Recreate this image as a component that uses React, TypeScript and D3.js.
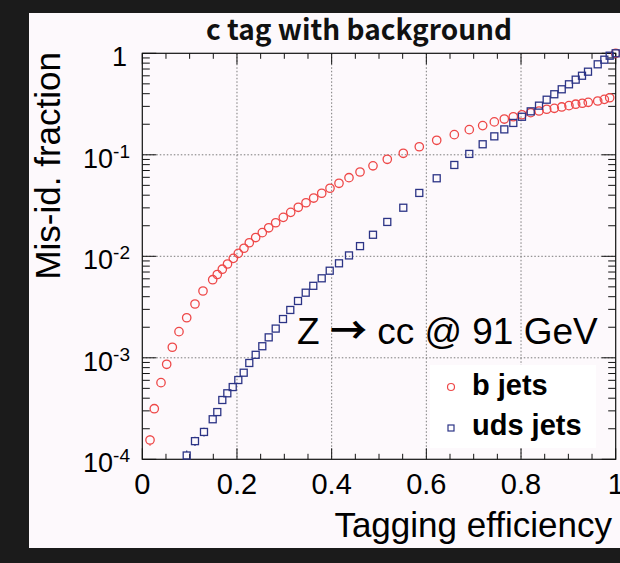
import React from "react";
import * as d3 from "d3";

const title = "c tag with background";
const xLabel = "Tagging efficiency";
const yLabel = "Mis-id. fraction";
const annotation = ["Z ", "→", " cc @ 91 GeV"];
const legendLabels = ["b jets", "uds jets"];

const xTicks = [0, 0.2, 0.4, 0.6, 0.8, 1];
const xTickLabels = ["0", "0.2", "0.4", "0.6", "0.8", "1"];
const yDecades = [1, 1e-1, 1e-2, 1e-3, 1e-4];
const yExponents = ["", "-1", "-2", "-3", "-4"];

const bEff = [0.0163, 0.0253, 0.0395, 0.0515, 0.0634, 0.0775, 0.0938, 0.1113, 0.1282, 0.1487, 0.1584, 0.169, 0.180, 0.1922, 0.2028, 0.2148, 0.226, 0.2395, 0.2535, 0.267, 0.2818, 0.2978, 0.3135, 0.3295, 0.3458, 0.362, 0.379, 0.3965, 0.4155, 0.4366, 0.4599, 0.4873, 0.5175, 0.5513, 0.5851, 0.6219, 0.6591, 0.6907, 0.719, 0.7436, 0.7647, 0.7837, 0.802, 0.8205, 0.838, 0.8542, 0.8703, 0.886, 0.9013, 0.9155, 0.9295, 0.942, 0.962, 0.976, 0.9873, 1.0];
const bFrac = [1.55e-4, 3.15e-4, 5.69e-4, 8.63e-4, 1.27e-3, 1.81e-3, 2.48e-3, 3.39e-3, 4.55e-3, 5.88e-3, 6.62e-3, 7.46e-3, 8.40e-3, 9.55e-3, 1.07e-2, 1.20e-2, 1.36e-2, 1.53e-2, 1.71e-2, 1.91e-2, 2.14e-2, 2.42e-2, 2.71e-2, 3.04e-2, 3.37e-2, 3.75e-2, 4.18e-2, 4.68e-2, 5.24e-2, 5.95e-2, 6.77e-2, 7.79e-2, 9.03e-2, 0.1035, 0.120, 0.139, 0.158, 0.177, 0.194, 0.211, 0.225, 0.237, 0.248, 0.260, 0.270, 0.281, 0.287, 0.296, 0.305, 0.315, 0.322, 0.329, 0.339, 0.352, 0.365, 1.0];
const bErr = [1.9e-5, 2.2e-5];

const udsEff = [0.0938, 0.1113, 0.1303, 0.1487, 0.1584, 0.169, 0.1796, 0.191, 0.2028, 0.2142, 0.226, 0.2395, 0.2535, 0.267, 0.2818, 0.2972, 0.3126, 0.3289, 0.3452, 0.3612, 0.379, 0.3959, 0.4155, 0.4366, 0.4599, 0.4873, 0.5175, 0.5513, 0.5851, 0.6219, 0.6591, 0.6907, 0.719, 0.7436, 0.7647, 0.7837, 0.802, 0.8205, 0.838, 0.8542, 0.8703, 0.886, 0.9013, 0.9155, 0.9288, 0.9415, 0.962, 0.976, 0.9873, 1.0];
const udsFrac = [1.09e-4, 1.51e-4, 1.86e-4, 2.48e-4, 2.92e-4, 3.84e-4, 4.47e-4, 5.15e-4, 6.04e-4, 7.13e-4, 8.89e-4, 1.07e-3, 1.30e-3, 1.59e-3, 1.94e-3, 2.41e-3, 2.96e-3, 3.63e-3, 4.38e-3, 5.12e-3, 6.07e-3, 7.21e-3, 8.53e-3, 1.02e-2, 1.26e-2, 1.63e-2, 2.18e-2, 3.01e-2, 4.21e-2, 5.87e-2, 7.94e-2, 0.102, 0.127, 0.152, 0.178, 0.206, 0.237, 0.268, 0.305, 0.349, 0.395, 0.442, 0.495, 0.550, 0.601, 0.659, 0.779, 0.865, 0.947, 1.0];
const udsErr = [1.3e-5, 1.6e-5, 1.8e-5, 1.7e-5, 2.0e-5];

const W = 620;
const H = 563;
const L = 142.3, R = 615.7, T = 53.3, B = 459.3;
const RED = "#ee4848";
const BLUE = "#2c3486";
const AXF = "'Liberation Sans', Arial, Helvetica, sans-serif";

export default function App() {
  const x = d3.scaleLinear().domain([0, 1]).range([L, R]);
  const y = d3.scaleLog().domain([1e-4, 1]).range([B, T]);

  const xMinor = d3.range(0, 1.0001, 0.05).filter((v) => !xTicks.some((t) => Math.abs(t - v) < 1e-6));
  const yMinor: number[] = [];
  for (let e = -4; e < 0; e++) for (let k = 2; k <= 9; k++) yMinor.push(k * Math.pow(10, e));

  const rC = 4.2;
  const sq = 7;

  const errSegs = (xs: number[], ys: number[], es: number[], gap: number, color: string, key: string) =>
    es.map((e, i) => {
      const cx = x(xs[i]);
      const cy = y(ys[i]);
      const top = y(ys[i] + e);
      const bot = y(Math.max(ys[i] - e, 1e-5));
      return (
        <g key={key + i} stroke={color} strokeWidth={1.2}>
          {top < cy - gap && <line x1={cx} x2={cx} y1={top} y2={cy - gap} />}
          {bot > cy + gap && <line x1={cx} x2={cx} y1={cy + gap} y2={Math.min(bot, B)} />}
        </g>
      );
    });

  return (
    <svg width={W} height={H} style={{ position: "absolute", left: 0, top: 0 }}>
      <rect x={0} y={0} width={W} height={H} fill="#1b1b1b" />
      <rect x={29} y={13} width={W - 29} height={548 - 13} fill="#fdf9fc" />
      {/* grid */}
      <g stroke="#7a7a7a" strokeWidth={1} strokeDasharray="1.5,2">
        {xTicks.slice(1, -1).map((t) => (
          <line key={"gx" + t} x1={x(t)} x2={x(t)} y1={T} y2={B} />
        ))}
        {yDecades.slice(1, -1).map((t) => (
          <line key={"gy" + t} x1={L} x2={R} y1={y(t)} y2={y(t)} />
        ))}
      </g>
      {/* ticks */}
      <g stroke="#111" strokeWidth={1}>
        {xTicks.map((t) => (
          <g key={"xt" + t}>
            <line x1={x(t)} x2={x(t)} y1={B} y2={B - 11} />
            <line x1={x(t)} x2={x(t)} y1={T} y2={T + 11} />
          </g>
        ))}
        {xMinor.map((t) => (
          <g key={"xm" + t}>
            <line x1={x(t)} x2={x(t)} y1={B} y2={B - 5.5} />
            <line x1={x(t)} x2={x(t)} y1={T} y2={T + 5.5} />
          </g>
        ))}
        {yDecades.map((t) => (
          <g key={"yt" + t}>
            <line x1={L} x2={L + 14} y1={y(t)} y2={y(t)} />
            <line x1={R} x2={R - 14} y1={y(t)} y2={y(t)} />
          </g>
        ))}
        {yMinor.map((t) => (
          <g key={"ym" + t}>
            <line x1={L} x2={L + 7.5} y1={y(t)} y2={y(t)} />
            <line x1={R} x2={R - 7.5} y1={y(t)} y2={y(t)} />
          </g>
        ))}
      </g>
      <rect x={L} y={T} width={R - L} height={B - T} fill="none" stroke="#111" strokeWidth={1.2} />
      {/* tick labels */}
      <g fontFamily={AXF} fontSize={29} fill="#000" textAnchor="middle">
        {xTicks.map((t, i) => (
          <text key={"xl" + t} x={x(t)} y={494}>
            {xTickLabels[i]}
          </text>
        ))}
      </g>
      <g fontFamily={AXF} fill="#000" textAnchor="end">
        {yDecades.map((t, i) =>
          yExponents[i] === "" ? (
            <text key={"yl" + t} x={127} y={y(t) + 13} fontSize={27}>
              1
            </text>
          ) : (
            <text key={"yl" + t} x={130} y={y(t) + 13} fontSize={27}>
              10
              <tspan fontSize={19} dy={-10}>
                {yExponents[i]}
              </tspan>
            </text>
          )
        )}
      </g>
      {/* axis titles */}
      <text x={612} y={537} fontFamily={AXF} fontSize={35} textAnchor="end" fill="#000">
        {xLabel}
      </text>
      <text
        transform="translate(60,52) rotate(-90)"
        fontFamily={AXF}
        fontSize={35}
        textAnchor="end"
        fill="#000"
      >
        {yLabel}
      </text>
      <text
        x={359}
        y={40}
        fontFamily="'Noto Sans CJK JP', 'Noto Sans', sans-serif"
        fontWeight="bold"
        fontSize={28}
        textAnchor="middle"
        fill="#111"
      >
        {title}
      </text>
      {/* error bars */}
      {errSegs(bEff, bFrac, bErr, rC, RED, "be")}
      {errSegs(udsEff, udsFrac, udsErr, sq / 2, BLUE, "ue")}
      {/* b jets */}
      <g fill="none" stroke={RED} strokeWidth={1.3}>
        {bEff.map((e, i) => (
          <circle key={"b" + i} cx={x(e)} cy={y(bFrac[i])} r={rC} />
        ))}
      </g>
      {/* uds jets */}
      <g fill="none" stroke={BLUE} strokeWidth={1.3}>
        {udsEff.map((e, i) => (
          <rect key={"u" + i} x={x(e) - sq / 2} y={y(udsFrac[i]) - sq / 2} width={sq} height={sq} />
        ))}
      </g>
      {/* annotation */}
      <text x={297} y={344} fontFamily={AXF} fontSize={37} fill="#000">
        {annotation[0]}
        <tspan fontFamily="'Noto Sans CJK JP', sans-serif" fontWeight="bold">
          {annotation[1]}
        </tspan>
        {annotation[2]}
      </text>
      {/* legend */}
      <rect x={430} y={365} width={166} height={83} fill="#ffffff" />
      <circle cx={451} cy={387} r={3.5} fill="none" stroke={RED} strokeWidth={1.2} />
      <rect x={448} y={425} width={6} height={6} fill="none" stroke={BLUE} strokeWidth={1.2} />
      <g fontFamily={AXF} fontWeight="bold" fontSize={29} fill="#000">
        <text x={472} y={395}>
          {legendLabels[0]}
        </text>
        <text x={472} y={435}>
          {legendLabels[1]}
        </text>
      </g>
    </svg>
  );
}
